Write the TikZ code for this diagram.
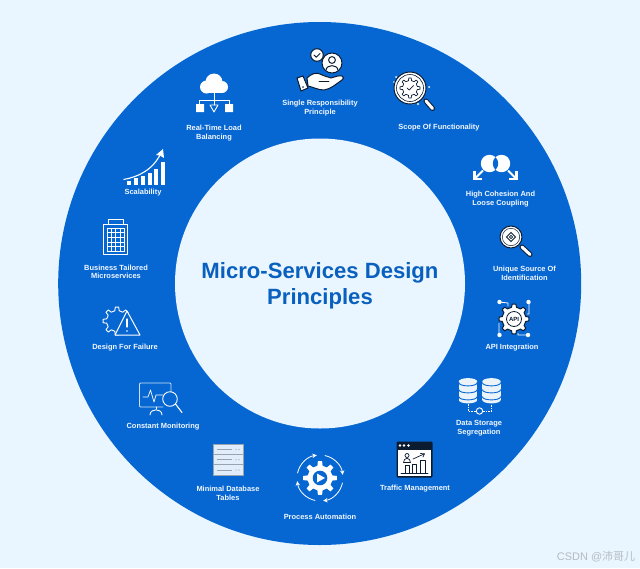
\documentclass[tikz,border=0pt]{standalone}
\usepackage{fontspec}
\setmainfont{Liberation Sans}
\newfontfamily\cjkwm{Noto Sans CJK SC}
\usetikzlibrary{arrows.meta}
\definecolor{bgc}{HTML}{E9F6FF}
\definecolor{ringc}{HTML}{0767D2}
\definecolor{titlec}{HTML}{0A60BF}
\definecolor{darkc}{HTML}{0B1B30}
\definecolor{txtc}{HTML}{F2F8FF}
\definecolor{wmc}{HTML}{B4BBC2}
\definecolor{graylc}{HTML}{9AA4AE}
\tikzset{
  lbl/.style={text=txtc,font=\fontsize{7.45}{8.9}\selectfont\bfseries,align=center,inner sep=0pt},
  ttl/.style={text=titlec,font=\fontsize{22.1}{26}\selectfont\bfseries,align=center,inner sep=0pt},
  wline/.style={draw=white,line width=0.9pt,line cap=round,line join=round},
  dline/.style={draw=darkc,line width=1pt,line cap=round,line join=round},
  dwfill/.style={draw=darkc,fill=white,line width=1pt,line join=round}
}
% gear polygon: x, y, root radius, tip radius, path options
\newcommand{\gearpoly}[5]{%
  \path[shift={(#1,#2)},#5] (-12:#3) \foreach \i in {0,...,7}{
     -- ({\i*45-12}:#3) -- ({\i*45-7}:#4) -- ({\i*45+7}:#4) -- ({\i*45+12}:#3)
  } -- cycle;}
\begin{document}
\begin{tikzpicture}[x=1pt,y=-1pt]
\useasboundingbox (0,0) rectangle (640,568);
\fill[bgc] (0,0) rectangle (640,568);
\fill[ringc] (319.7,283.5) circle (261.5);
\fill[bgc] (320,283.5) circle (145);

\node[ttl] (title) at (320,286) {Micro-Services Design\\Principles};

% labels
\node[lbl] (single) at (320,108.3) {Single Responsibility\\Principle};
\node[lbl] (scope) at (439,127.5) {Scope Of Functionality};
\node[lbl] (cohesion) at (500.5,199.3) {High Cohesion And\\Loose Coupling};
\node[lbl] (unique) at (524.5,273.3) {Unique Source Of\\Identification};
\node[lbl] (api) at (512,348) {API Integration};
\node[lbl] (data) at (479,428.3) {Data Storage\\Segregation};
\node[lbl] (traffic) at (415,489) {Traffic Management};
\node[lbl] (process) at (320,517) {Process Automation};
\node[lbl] (minimal) at (228,493.3) {Minimal Database\\Tables};
\node[lbl] (monitor) at (163,427) {Constant Monitoring};
\node[lbl] (failure) at (125,348) {Design For Failure};
\node[lbl] (business) at (116,271.8) {Business Tailored\\Microservices};
\node[lbl] (scal) at (143,193) {Scalability};
\node[lbl] (load) at (214,133.3) {Real-Time Load\\Balancing};

% cloud / load balancing
\fill[white] (206.5,87) circle (6.5) (214,82) circle (8.5) (222,87) circle (6);
\fill[white] (207,86) rectangle (222,93);
\draw[wline] (214,93) -- (214,100) (199.5,104) -- (199.5,100) -- (229.5,100) -- (229.5,104);
\draw[wline] (214,100) -- (214,105);
\fill[white] (196,104) rectangle (204,112) (225,104) rectangle (233,112);
\draw[wline] (210,105) -- (218,105) -- (214,112) -- cycle;

% hand with person
\draw[dwfill] (317,55) circle (6.3);
\draw[dline] (314,55) -- (316.3,57.2) -- (320,53.5);
\draw[dwfill] (332,63) circle (10);
\draw[dwfill] (332,60) circle (3.4);
\draw[dline,fill=white] (326,70.5) .. controls (326,64) and (338,64) .. (338,70.5);
\draw[dwfill] (307,78) .. controls (311,74) and (316,72) .. (320,74) .. controls (324,76) and (328,77) .. (331,78)
   .. controls (335,77) and (339,75) .. (342,76) .. controls (344,77) and (344,79) .. (342,80)
   .. controls (336,84) and (331,89) .. (324,90) .. controls (318,90) and (313,87) .. (308,86) -- cycle;
\draw[dwfill] (297,78) -- (303,76) -- (308,88) -- (301,91) -- cycle;
\fill[darkc] (303,87) circle (0.9);
\draw[dline,line width=.8pt] (319,81) -- (329,81);

% scope magnifier
\fill[white] (396,77) circle (1) (394,82) circle (.8) (429,87) circle (1) (418,104) circle (1.1) (413,104) circle (.7);
\draw[darkc,line width=5pt,line cap=round] (426,101) -- (432.5,108.5);
\draw[white,line width=3pt,line cap=round] (426,101) -- (432.5,108.5);
\draw[dwfill] (410,88) circle (16);
\draw[draw=darkc,line width=.6pt] (410,88) circle (13.5);
\gearpoly{410}{88}{7.5}{10}{draw=darkc,fill=white,line width=.7pt,line join=round}
\draw[dline,line width=.7pt] (407,88) -- (409.3,90) -- (413.5,85.5);

% cohesion
\fill[white] (489.5,163.5) circle (8.7) (501.5,163.5) circle (8.7);
\begin{scope}
\clip (489.5,163.5) circle (8.7);
\fill[ringc] (501.5,163.5) circle (8.7);
\end{scope}
\draw[white,line width=2pt] (483,170.5) -- (475.5,178) (508,170.5) -- (515.5,178);
\draw[white,line width=2.2pt] (474.5,171) -- (474.5,178.8) -- (482,178.8) (516.5,171) -- (516.5,178.8) -- (509,178.8);

% unique
\draw[darkc,line width=5pt,line cap=round] (522,247) -- (530,254.5);
\draw[white,line width=3pt,line cap=round] (522,247) -- (530,254.5);
\draw[dwfill] (511,237) circle (11);
\draw[draw=darkc,line width=.5pt] (511,237) circle (8.7);
\draw[draw=darkc,line width=.8pt] (506.5,237) -- (511,232.5) -- (515.5,237) -- (511,241.5) -- cycle;
\draw[draw=darkc,line width=.7pt] (511,237) circle (1.6);

% API
\draw[draw=white,line width=.8pt] (499,302) -- (508,303) -- (508,306) (529,302) -- (529,314) -- (527,314)
  (499,335) -- (499,323) (528,335) -- (518,335) -- (518,333);
\fill[white] (499.5,302) circle (2.2) (528.5,302) circle (2.2) (499.5,335) circle (2.2) (528,335) circle (2.2);
\gearpoly{514}{319}{12}{15}{draw=darkc,fill=white,line width=1pt,line join=round}
\draw[draw=darkc,line width=.8pt] (514,319) circle (7.5);
\node[inner sep=0pt,text=darkc,font=\fontsize{6}{6}\selectfont\bfseries] (apitxt) at (514,319) {API};

% data storage
\foreach \cx in {468,491.5}{
  \fill[white!92!ringc] (\cx-9.2,381.5) rectangle (\cx+9.2,400);
  \fill[white!92!ringc] (\cx,381.5) ellipse (9.2 and 3.4);
  \fill[white!92!ringc] (\cx,400) ellipse (9.2 and 3.4);
  \draw[ringc,line width=.9pt] (\cx-9.2,382.5) .. controls (\cx-9.2,387) and (\cx+9.2,387) .. (\cx+9.2,382.5)
     (\cx-9.2,389.5) .. controls (\cx-9.2,394) and (\cx+9.2,394) .. (\cx+9.2,389.5)
     (\cx-9.2,396.5) .. controls (\cx-9.2,401) and (\cx+9.2,401) .. (\cx+9.2,396.5);
}
\draw[white,line width=.9pt,dash pattern=on 1.5pt off 1.2pt] (468,404) -- (468,411.5) -- (476,411.5) (483,411.5) -- (491.5,411.5) -- (491.5,404);
\draw[white,line width=.9pt] (479.5,411) circle (3.2);

% traffic
\fill[darkc,rounded corners=1.2pt] (396.5,441.5) rectangle (432.5,477.5);
\fill[white] (398,449.5) rectangle (431,476);
\fill[white] (400,445.5) circle (1.3) (404,445.5) circle (1.3) (408.5,445.5) circle (1.3);
\draw[dline,line width=.7pt] (407,455.5) circle (2);
\draw[dline,line width=.7pt] (403.5,462.5) .. controls (403.5,457) and (410.5,457) .. (410.5,462.5) -- cycle;
\draw[dline,line width=.7pt] (405,473) -- (405,465) -- (409,465) -- (409,473) (412,473) -- (412,464) -- (416.5,464) -- (416.5,473) (420,473) -- (420,460) -- (425,460) -- (425,473);
\draw[dline,line width=.7pt] (401,473.5) -- (428,473.5);
\draw[dline,line width=.7pt] (413,459) -- (424,454);
\draw[dline,line width=.7pt] (420.5,453.5) -- (424.5,453.8) -- (423,457);

% process automation
\gearpoly{320}{478}{12.5}{17}{fill=white}
\fill[ringc] (320,478) circle (7.3);
\fill[white] (317,473.5) -- (325,478) -- (317,482.5) -- cycle;
\foreach \sa/\ea in {-78/-8,12/82,102/172,192/262}{
  \draw[white,line width=.8pt,-{Stealth[length=4.5pt,width=4.5pt]}] (320,478) ++(\sa:23) arc[start angle=\sa,end angle=\ea,radius=23];
}

% minimal db
\fill[white!88!ringc] (213,444) rectangle (243,475);
\draw[graylc,line width=.7pt] (213,444) rectangle (243,475);
\foreach \yy in {454.3,464.7}{ \draw[graylc,line width=.7pt] (213,\yy) -- (243,\yy); }
\foreach \yy in {449.5,459.7,470}{
  \draw[graylc,line width=.8pt] (217,\yy) -- (232,\yy);
  \fill[graylc] (236,\yy) circle (.6) (239,\yy) circle (.6);
}

% monitoring
\draw[wline,draw=white!80!ringc,rounded corners=1pt] (171,392) -- (171,383) -- (139.5,383) -- (139.5,407) -- (163,407);
\draw[wline,line width=.7pt] (143,397) -- (148,397) -- (150.5,390) -- (154,402) -- (156,395) -- (163,395);
\draw[wline] (170,399) circle (7.3);
\draw[wline,line width=1.1pt] (175.5,404) -- (182,412.5);
\draw[wline] (150,415) .. controls (150,408) and (162,408) .. (162,415);
\draw[wline] (156,407) -- (156,409);

% failure
\gearpoly{117}{321}{10.5}{14}{draw=white,line width=.9pt,line join=round}
\draw[wline,fill=ringc,line width=1pt] (127,311) -- (140,335) -- (115,335) -- cycle;
\draw[wline,line width=1.2pt] (127,319) -- (127,327);
\fill[white] (127,331) circle (.9);

% business
\draw[wline] (108,224) -- (108,219.5) -- (123,219.5) -- (123,224);
\draw[wline] (103.5,224) rectangle (127.5,254.5);
\draw[white,line width=.6pt] (107.5,228) rectangle (124,251);
\foreach \xx in {111.6,115.75,119.9}{ \draw[white,line width=.6pt] (\xx,228) -- (\xx,251); }
\foreach \yy in {232.6,237.2,241.8,246.4}{ \draw[white,line width=.6pt] (107.5,\yy) -- (124,\yy); }

% scalability
\foreach \xx/\tp in {126.5/181,133.5/178,140.5/176,147.5/173,154/169,160.5/162}{
  \fill[white] (\xx,\tp) rectangle (\xx+4.3,184.5);
}
\draw[white,line width=1.1pt] (123.5,179.5) .. controls (138,177) and (153,170) .. (161,153);
\fill[white] (163,149) -- (164,158) -- (160,155.5) -- (156,155) -- cycle;

% watermark
\node[inner sep=0pt,text=wmc,font=\fontsize{11}{12}\selectfont] (wm) at (596,556.5) {CSDN @{\cjkwm 沛哥儿}};
\end{tikzpicture}
\end{document}
